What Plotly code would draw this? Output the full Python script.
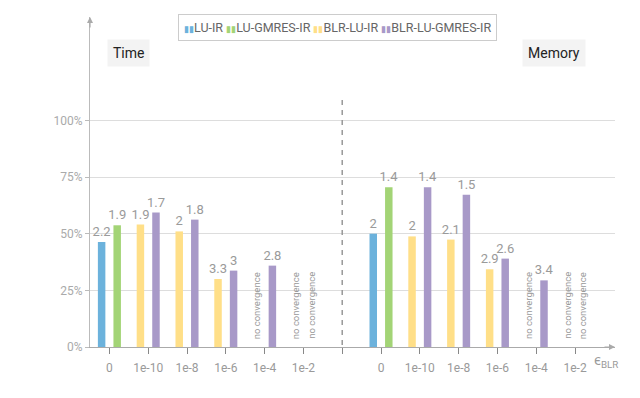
import plotly.graph_objects as go

# ---- data ----
series = ["LU-IR", "LU-GMRES-IR", "BLR-LU-IR", "BLR-LU-GMRES-IR"]
colors = ["#6cb2dc", "#a3d476", "#ffdf88", "#a899c8"]
eps_labels = ["0", "1e-10", "1e-8", "1e-6", "1e-4", "1e-2"]

# fraction of reference (LU) cost; None = no convergence / not applicable
time_lu_ir = [0.463]
time_lu_gmres = [0.537]
time_blr_ir = [0.54, 0.51, 0.30, None, None]
time_blr_gmres = [0.593, 0.562, 0.337, 0.359, None]
time_lu_ir_lbl = ["2.2"]
time_lu_gmres_lbl = ["1.9"]
time_blr_ir_lbl = ["1.9", "2", "3.3", "", ""]
time_blr_gmres_lbl = ["1.7", "1.8", "3", "2.8", ""]

mem_lu_ir = [0.50]
mem_lu_gmres = [0.705]
mem_blr_ir = [0.488, 0.474, 0.343, None, None]
mem_blr_gmres = [0.705, 0.672, 0.39, 0.294, None]
mem_lu_ir_lbl = ["2"]
mem_lu_gmres_lbl = ["1.4"]
mem_blr_ir_lbl = ["2", "2.1", "2.9", "", ""]
mem_blr_gmres_lbl = ["1.4", "1.5", "2.6", "3.4", ""]

# ---- positions: 6 time slots, divider, 6 memory slots ----
time_pos = list(range(0, 6))
mem_pos = list(range(7, 13))
divider = 6

BW = 0.193
OFF_L = -0.297
OFF_R = 0.104
FONT = "Roboto, 'Noto Sans', sans-serif"
GRAY = "#9a9a9a"

fig = go.Figure()

def add(name, color, xs, ys, lbls, off):
    fig.add_trace(go.Bar(
        name=name, x=xs, y=ys, text=lbls, textposition="outside",
        constraintext="none",
        textfont=dict(color=GRAY, size=13, family=FONT),
        marker=dict(color=color, line=dict(width=0)),
        width=BW, offset=off, cliponaxis=False, showlegend=False,
    ))

add(series[0], colors[0], [time_pos[0], mem_pos[0]], time_lu_ir + mem_lu_ir,
    time_lu_ir_lbl + mem_lu_ir_lbl, OFF_L)
add(series[1], colors[1], [time_pos[0], mem_pos[0]], time_lu_gmres + mem_lu_gmres,
    time_lu_gmres_lbl + mem_lu_gmres_lbl, OFF_R)
add(series[2], colors[2], time_pos[1:] + mem_pos[1:], time_blr_ir + mem_blr_ir,
    time_blr_ir_lbl + mem_blr_ir_lbl, OFF_L)
add(series[3], colors[3], time_pos[1:] + mem_pos[1:], time_blr_gmres + mem_blr_gmres,
    time_blr_gmres_lbl + mem_blr_gmres_lbl, OFF_R)

annotations = []
# "no convergence" markers
for pos_list, vals_ir, vals_gm in [(time_pos[1:], time_blr_ir, time_blr_gmres),
                                   (mem_pos[1:], mem_blr_ir, mem_blr_gmres)]:
    for p, a, b in zip(pos_list, vals_ir, vals_gm):
        for v, off in [(a, OFF_L), (b, OFF_R)]:
            if v is None:
                annotations.append(dict(
                    x=p + off + BW / 2, y=0, xref="x", yref="y",
                    text="no convergence", textangle=-90, showarrow=False,
                    xanchor="center", yanchor="bottom", yshift=6,
                    font=dict(color=GRAY, size=9.5, family=FONT)))

# compact legend (text-based)
legend_parts = []
for name, c in zip(series, colors):
    legend_parts.append(
        f"<span style='color:{c};font-size:9px'>▮▮</span>{name}")
annotations.append(dict(
    x=0.472, y=1.009, xref="paper", yref="paper", xanchor="center", yanchor="top",
    text=" ".join(legend_parts), showarrow=False,
    bordercolor="#cccccc", borderwidth=1, borderpad=5, bgcolor="white",
    font=dict(size=12.5, color="#666666", family=FONT)))

# section labels
for txt, xp in [("Time", 0.074), ("Memory", 0.884)]:
    annotations.append(dict(
        x=xp, y=0.891, xref="paper", yref="paper", text=txt, showarrow=False,
        xanchor="center", yanchor="middle",
        bgcolor="#f3f3f3", borderpad=5,
        font=dict(color="#222", size=14, family=FONT)))

# epsilon label
annotations.append(dict(
    x=1.0, y=0, xref="paper", yref="paper", text="ϵ<sub>BLR</sub>",
    showarrow=False, xanchor="right", yanchor="top", yshift=-3, xshift=5,
    font=dict(color=GRAY, size=14, family=FONT)))

# axis arrowheads
annotations.append(dict(x=0, y=1, xref="paper", yref="paper", ax=0, ay=12,
                        text="", showarrow=True, arrowhead=2, arrowsize=1,
                        arrowwidth=1.2, arrowcolor="#aaaaaa"))
annotations.append(dict(x=1, y=0, xref="paper", yref="paper", ax=-12, ay=0,
                        text="", showarrow=True, arrowhead=2, arrowsize=1,
                        arrowwidth=1.2, arrowcolor="#aaaaaa"))

shapes = [
    dict(type="line", xref="x", yref="y", x0=divider, x1=divider, y0=-0.035, y1=1.10,
         line=dict(color="#999999", width=1.5, dash="5px,5px")),
]

fig.update_layout(
    width=640, height=398,
    margin=dict(l=82, r=33, t=9, b=59),
    paper_bgcolor="white", plot_bgcolor="white",
    barmode="overlay",
    font=dict(family=FONT, color=GRAY, size=12),
    showlegend=False,
    xaxis=dict(range=[-0.5, 13.03], tickmode="array",
               tickvals=time_pos + [divider] + mem_pos,
               ticktext=eps_labels + [""] + eps_labels,
               showgrid=False, zeroline=False, showline=True, linecolor="#aaaaaa",
               linewidth=1, ticks="outside", ticklen=6, tickcolor="#888888",
               ticklabelstandoff=4,
               tickfont=dict(size=12, color=GRAY)),
    yaxis=dict(range=[0, 1.456], tickmode="array", tickvals=[0, 0.25, 0.5, 0.75, 1.0],
               tickformat=".0%", showgrid=True, gridcolor="#dddddd", zeroline=False,
               showline=True, linecolor="#bbbbbb", ticks="outside", ticklen=4,
               tickcolor="#bbbbbb", tickfont=dict(size=12, color="#aaaaaa")),
    annotations=annotations,
    shapes=shapes,
)

fig.write_html("out.html")
